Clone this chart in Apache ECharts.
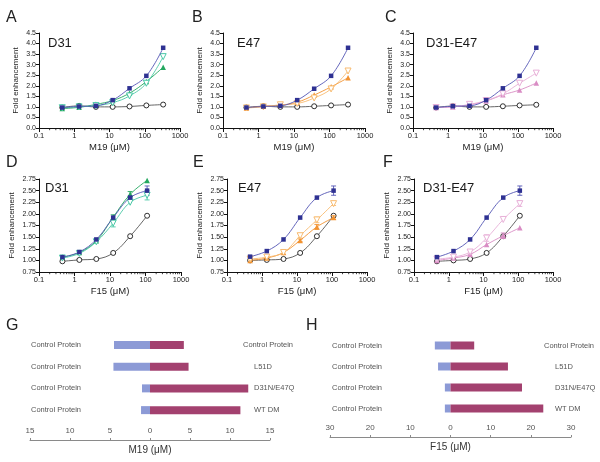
<!DOCTYPE html>
<html><head><meta charset="utf-8">
<script src="https://cdn.jsdelivr.net/npm/echarts@6/dist/echarts.min.js"></script>
<style>html,body{margin:0;padding:0;background:#fff}#c{width:600px;height:462px}</style>
</head><body><div id="c"></div><script>
// ---------- DATA ----------
const M19_CONC = [0.457, 1.37, 4.12, 12.3, 37, 111, 333];
const F15_CONC = [0.457, 1.37, 4.12, 12.3, 37, 111];
const LOG_MINOR_TICKS = [0.2,0.3,0.4,0.5,0.6,0.7,0.8,0.9,2,3,4,5,6,7,8,9,20,30,40,50,60,70,80,90,200,300,400,500,600,700,800,900];

// Panel A: D31, M19
const A_WT     = [0.97, 1.02, 1.05, 1.32, 1.88, 2.47, 3.80];
const A_OPEN   = [0.96, 1.00, 1.06, 1.20, 1.52, 2.12, 3.38];
const A_FILLED = [0.92, 0.98, 1.12, 1.30, 1.65, 2.20, 2.88];
const A_CTRL   = [0.97, 1.05, 1.00, 1.00, 1.02, 1.07, 1.11];
// Panel B: E47, M19
const B_WT     = [0.97, 1.02, 1.05, 1.32, 1.86, 2.47, 3.80];
const B_OPEN   = [0.95, 1.00, 1.10, 1.16, 1.42, 1.85, 2.70];
const B_FILLED = [0.95, 1.03, 1.08, 1.22, 1.56, 1.95, 2.38];
const B_CTRL   = [0.97, 1.03, 1.00, 1.00, 1.03, 1.07, 1.11];
// Panel C: D31-E47, M19
const C_WT     = [0.97, 1.03, 1.05, 1.32, 1.88, 2.47, 3.80];
const C_OPEN   = [0.97, 1.00, 1.12, 1.30, 1.62, 2.12, 2.60];
const C_FILLED = [0.97, 1.00, 1.10, 1.28, 1.57, 1.80, 2.13];
const C_CTRL   = [0.97, 1.04, 1.00, 1.00, 1.03, 1.07, 1.10];
// Panel D: D31, F15
const D_WT     = [1.07, 1.18, 1.45, 1.92, 2.35, 2.50];
const D_OPEN   = [1.05, 1.15, 1.40, 1.80, 2.25, 2.40];
const D_FILLED = [1.07, 1.17, 1.42, 1.93, 2.42, 2.72];
const D_CTRL   = [0.98, 1.01, 1.03, 1.16, 1.52, 1.96];
const D_WT_ERR     = [0, 0, 0, 0, 0.03, 0.10];
const D_OPEN_ERR   = [0, 0, 0, 0.08, 0, 0.10];
const D_FILLED_ERR = [0, 0, 0, 0.05, 0.06, 0];
// Panel E: E47, F15
const E_WT     = [1.08, 1.20, 1.45, 1.92, 2.35, 2.50];
const E_OPEN   = [1.03, 1.07, 1.17, 1.53, 1.87, 2.22];
const E_FILLED = [1.00, 1.05, 1.17, 1.43, 1.72, 1.92];
const E_CTRL   = [1.00, 1.01, 1.03, 1.16, 1.52, 1.96];
const E_WT_ERR     = [0, 0, 0, 0, 0, 0.10];
const E_OPEN_ERR   = [0, 0, 0, 0.05, 0.06, 0.04];
const E_FILLED_ERR = [0, 0, 0, 0.03, 0.05, 0.04];
// Panel F: D31-E47, F15
const F_WT     = [1.07, 1.20, 1.45, 1.92, 2.35, 2.50];
const F_OPEN   = [1.03, 1.07, 1.18, 1.48, 1.88, 2.22];
const F_FILLED = [1.00, 1.05, 1.13, 1.34, 1.53, 1.70];
const F_CTRL   = [0.98, 1.00, 1.03, 1.16, 1.52, 1.96];
const F_WT_ERR     = [0, 0, 0, 0, 0, 0.10];
const F_OPEN_ERR   = [0, 0, 0.04, 0.07, 0, 0.06];
const F_FILLED_ERR = [0, 0, 0, 0, 0.06, 0];

// Panels G & H (bars)
const BAR_CATEGORIES = ['Control Protein', 'L51D', 'D31N/E47Q', 'WT DM'];
const BAR_LEFT_LABEL = 'Control Protein';
const G_CONTROL = [-4.5, -4.57, -1.0, -1.12];
const G_MUTANT  = [4.23, 4.82, 12.28, 11.3];
const H_CONTROL = [-3.9, -3.1, -1.4, -1.4];
const H_MUTANT  = [5.9, 14.3, 17.8, 23.1];

// ---------- STYLE ----------
const FONT = 'Liberation Sans, Arial, sans-serif';
const NAVY = '#2e3192', NAVY_LINE = '#5356b4';
const CTRL = '#1a1a1a', CTRL_LINE = '#555';
const COL = {
  green:  {fill:'#25a860', open:'#49c8a6'},
  orange: {fill:'#f29230', open:'#f8bb70'},
  pink:   {fill:'#d98cc4', open:'#e8b0d8'}
};

const panels = [
  {conc:M19_CONC, grid:{left:39,top:33,width:141,height:95}, y:{min:0,max:4.5,interval:0.5,dec:1}, xname:'M19 (μM)', col:COL.green,
   wt:A_WT, open:A_OPEN, filled:A_FILLED, ctrl:A_CTRL},
  {conc:M19_CONC, grid:{left:223,top:33,width:142,height:95}, y:{min:0,max:4.5,interval:0.5,dec:1}, xname:'M19 (μM)', col:COL.orange,
   wt:B_WT, open:B_OPEN, filled:B_FILLED, ctrl:B_CTRL},
  {conc:M19_CONC, grid:{left:413,top:33,width:140,height:95}, y:{min:0,max:4.5,interval:0.5,dec:1}, xname:'M19 (μM)', col:COL.pink,
   wt:C_WT, open:C_OPEN, filled:C_FILLED, ctrl:C_CTRL},
  {conc:F15_CONC, grid:{left:39,top:179,width:142,height:93}, y:{min:0.75,max:2.75,interval:0.25,dec:2}, xname:'F15 (μM)', col:COL.green,
   wt:D_WT, open:D_OPEN, filled:D_FILLED, ctrl:D_CTRL, wtErr:D_WT_ERR, openErr:D_OPEN_ERR, filledErr:D_FILLED_ERR},
  {conc:F15_CONC, grid:{left:227,top:179,width:140,height:93}, y:{min:0.75,max:2.75,interval:0.25,dec:2}, xname:'F15 (μM)', col:COL.orange,
   wt:E_WT, open:E_OPEN, filled:E_FILLED, ctrl:E_CTRL, wtErr:E_WT_ERR, openErr:E_OPEN_ERR, filledErr:E_FILLED_ERR},
  {conc:F15_CONC, grid:{left:414,top:179,width:139,height:93}, y:{min:0.75,max:2.75,interval:0.25,dec:2}, xname:'F15 (μM)', col:COL.pink,
   wt:F_WT, open:F_OPEN, filled:F_FILLED, ctrl:F_CTRL, wtErr:F_WT_ERR, openErr:F_OPEN_ERR, filledErr:F_FILLED_ERR}
];

const grids = [], xAxes = [], yAxes = [], series = [];

function errSeries(gi, conc, vals, errs, color) {
  if (!errs) return null;
  const d = [];
  conc.forEach((c, i) => { if (errs[i] > 0) d.push([c, vals[i], errs[i]]); });
  return {
    type:'custom', xAxisIndex:gi, yAxisIndex:gi, silent:true, z:3, clip:false, data:d,
    renderItem:(params, api) => {
      const x = api.value(0), y = api.value(1), e = api.value(2);
      const t = api.coord([x, y + e]), b = api.coord([x, y - e]);
      const st = {stroke:color, lineWidth:0.9};
      return {type:'group', children:[
        {type:'line', shape:{x1:t[0],y1:t[1],x2:b[0],y2:b[1]}, style:st},
        {type:'line', shape:{x1:t[0]-2.5,y1:t[1],x2:t[0]+2.5,y2:t[1]}, style:st},
        {type:'line', shape:{x1:b[0]-2.5,y1:b[1],x2:b[0]+2.5,y2:b[1]}, style:st}
      ]};
    }
  };
}

panels.forEach((p, gi) => {
  grids.push(Object.assign({containLabel:false}, p.grid));
  xAxes.push({
    gridIndex:gi, type:'log', logBase:10, min:0.1, max:1000,
    name:p.xname, nameLocation:'middle', nameGap:14,
    nameTextStyle:{fontFamily:FONT, fontSize:9.5, color:'#222'},
    axisLine:{show:true, lineStyle:{color:'#111', width:1}},
    axisTick:{show:true, length:4, lineStyle:{color:'#111'}},
    axisLabel:{fontFamily:FONT, fontSize:7.5, color:'#222', margin:4,
      formatter:v => String(v)},
    splitLine:{show:false}
  });
  yAxes.push({
    gridIndex:gi, type:'value', min:p.y.min, max:p.y.max, interval:p.y.interval,
    name:'Fold enhancement', nameLocation:'middle', nameGap: p.y.dec === 1 ? 19 : 23,
    nameTextStyle:{fontFamily:FONT, fontSize:8, color:'#222'},
    axisLine:{show:true, lineStyle:{color:'#111', width:1}},
    axisTick:{show:true, length:3, lineStyle:{color:'#111'}},
    axisLabel:{fontFamily:FONT, fontSize:7, color:'#222', margin:3,
      formatter:v => v.toFixed(p.y.dec)},
    splitLine:{show:false}
  });
  // minor log ticks
  series.push({
    type:'custom', xAxisIndex:gi, yAxisIndex:gi, silent:true, clip:false, z:1,
    data: LOG_MINOR_TICKS.map(v => [v, p.y.min]),
    renderItem:(params, api) => {
      const pt = api.coord([api.value(0), api.value(1)]);
      return {type:'line', shape:{x1:pt[0], y1:pt[1], x2:pt[0], y2:pt[1] + 2.2}, style:{stroke:'#111', lineWidth:0.8}};
    }
  });
  const mk = (vals, o) => Object.assign({
    type:'line', xAxisIndex:gi, yAxisIndex:gi, smooth:0.4, showAllSymbol:true,
    data:p.conc.map((c, i) => [c, vals[i]]), symbolSize:5
  }, o);
  series.push(mk(p.ctrl, {symbol:'circle', z:2, itemStyle:{color:'#fff', borderColor:CTRL, borderWidth:0.9}, lineStyle:{color:CTRL_LINE, width:0.9}}));
  series.push(mk(p.filled, {symbol:'triangle', symbolSize:5.5, z:4, itemStyle:{color:p.col.fill}, lineStyle:{color:p.col.fill, width:0.9}}));
  series.push(mk(p.open, {symbol:'triangle', symbolRotate:180, symbolSize:6, z:5, itemStyle:{color:'#fff', borderColor:p.col.open, borderWidth:1}, lineStyle:{color:p.col.open, width:0.9}}));
  series.push(mk(p.wt, {symbol:'rect', symbolSize:4.5, z:6, itemStyle:{color:NAVY}, lineStyle:{color:NAVY_LINE, width:0.9}}));
  [errSeries(gi, p.conc, p.filled, p.filledErr, p.col.fill),
   errSeries(gi, p.conc, p.open, p.openErr, p.col.open),
   errSeries(gi, p.conc, p.wt, p.wtErr, NAVY_LINE)].forEach(s => { if (s) series.push(s); });
});

// ---------- BAR PANELS ----------
const bars = [
  {grid:{left:30, top:334, width:240, height:87}, max:15, interval:5, offset:19, name:'M19 (μM)', control:G_CONTROL, mutant:G_MUTANT, rightMargin:-27, leftMargin:1},
  {grid:{left:330, top:335, width:241, height:84}, max:30, interval:10, offset:18, name:'F15 (μM)', control:H_CONTROL, mutant:H_MUTANT, rightMargin:-27, leftMargin:2}
];
bars.forEach(b => {
  const gi = grids.length;
  grids.push(b.grid);
  xAxes.push({
    gridIndex:gi, type:'value', min:-b.max, max:b.max, interval:b.interval, offset:b.offset,
    name:b.name, nameLocation:'middle', nameGap:5,
    nameTextStyle:{fontFamily:FONT, fontSize:10, color:'#333', verticalAlign:'top'},
    axisLine:{show:true, lineStyle:{color:'#8a8a8a', width:1}},
    axisTick:{show:true, inside:true, length:2, lineStyle:{color:'#8a8a8a'}},
    axisLabel:{inside:true, margin:5, fontFamily:FONT, fontSize:8, color:'#555', formatter:v => String(Math.abs(v))},
    splitLine:{show:false}
  });
  const yl = yAxes.length;
  yAxes.push({
    gridIndex:gi, type:'category', data:BAR_CATEGORIES, inverse:true, position:'left',
    axisLine:{show:false}, axisTick:{show:false},
    axisLabel:{inside:true, margin:b.leftMargin, fontFamily:FONT, fontSize:7.5, color:'#555', formatter:() => BAR_LEFT_LABEL}
  });
  yAxes.push({
    gridIndex:gi, type:'category', data:BAR_CATEGORIES, inverse:true, position:'right',
    axisLine:{show:false}, axisTick:{show:false},
    axisLabel:{margin:b.rightMargin, align:'left', fontFamily:FONT, fontSize:7.5, color:'#555',
      formatter:(v, i) => i === 0 ? '{a|' + v + '}' : '{b|' + v + '}',
      rich:{a:{fontFamily:FONT, fontSize:7.5, color:'#555'}, b:{fontFamily:FONT, fontSize:7.5, color:'#555', padding:[0,0,0,11]}}}
  });
  series.push({type:'bar', xAxisIndex:gi, yAxisIndex:yl, data:b.control, barWidth:8, barGap:'-100%', itemStyle:{color:'#8c9ad6'}, silent:true});
  series.push({type:'bar', xAxisIndex:gi, yAxisIndex:yl, data:b.mutant, barWidth:8, barGap:'-100%', itemStyle:{color:'#a3416f'}, silent:true});
});

// ---------- TITLES ----------
const letter = (t, l, top) => ({text:t, left:l, top:top, padding:0, textStyle:{fontFamily:FONT, fontWeight:'normal', fontSize:16, color:'#222'}});
const inner = (t, l, top) => ({text:t, left:l, top:top, padding:0, textStyle:{fontFamily:FONT, fontWeight:'normal', fontSize:13, color:'#1a1a1a'}});
const titles = [
  letter('A', 6, 10), letter('B', 192, 10), letter('C', 385, 10),
  letter('D', 6, 155), letter('E', 193, 155), letter('F', 383, 155),
  letter('G', 6, 318), letter('H', 306, 318),
  inner('D31', 48, 37), inner('E47', 237, 37), inner('D31-E47', 426, 37),
  inner('D31', 45, 182), inner('E47', 238, 182), inner('D31-E47', 423, 182)
];

const chart = echarts.init(document.getElementById('c'), null, {renderer:'canvas'});
chart.setOption({
  animation:false, backgroundColor:'#fff',
  title:titles, grid:grids, xAxis:xAxes, yAxis:yAxes, series:series
});
</script></body></html>
